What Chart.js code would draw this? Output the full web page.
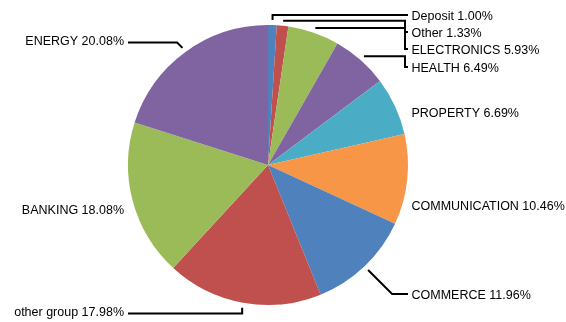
<!DOCTYPE html>
<html>
<head>
<meta charset="utf-8">
<script src="https://cdn.jsdelivr.net/npm/chart.js@4/dist/chart.umd.min.js"></script>
<style>
    html, body { margin: 0; padding: 0; background: #ffffff; }
    #wrap { width: 566px; height: 322px; position: relative; }
</style>
</head>
<body>
<div id="wrap"><canvas id="pieChart"></canvas></div>
<script>
(() => {
    "use strict";

    const categories = ["Deposit", "Other", "ELECTRONICS", "HEALTH", "PROPERTY", "COMMUNICATION", "COMMERCE", "other group", "BANKING", "ENERGY"];
    const shares = [1.00, 1.33, 5.93, 6.49, 6.69, 10.46, 11.96, 17.98, 18.08, 20.08];
    const sliceColors = ["#4f81bd", "#c0504d", "#9bbb59", "#8064a2", "#4bacc6", "#f79646", "#4f81bd", "#c0504d", "#9bbb59", "#8064a2"];

    // label placement, offsets from pie centre; route = how the leader line runs
    const labelLayout = [
        { side: "right", dy: -150, route: "vh" },
        { side: "right", dy: -133, route: "hv" },
        { side: "right", dy: -116, route: "hv" },
        { side: "right", dy: -98, route: "hv" },
        { side: "right", dy: -51.5, route: null },
        { side: "right", dy: 41.5, route: null },
        { side: "right", dy: 129, route: "dh" },
        { side: "left", dy: 148.5, route: "vh" },
        { side: "left", dy: 45.5, route: null },
        { side: "left", dy: -122.5, route: "dh" }
    ];

    const pieLabels = {
        id: "pieLabels",
        afterDraw(chart) {
            const ctx = chart.ctx;
            const arcs = chart.getDatasetMeta(0).data;
            ctx.save();
            ctx.font = "12.5px 'Liberation Sans', Arial, sans-serif";
            ctx.textBaseline = "middle";
            ctx.fillStyle = "#000000";
            ctx.strokeStyle = "#000000";
            ctx.lineWidth = 2;
            ctx.lineJoin = "miter";

            arcs.forEach((arc, i) => {
                const lay = labelLayout[i];
                const cx = arc.x;
                const cy = arc.y;
                const r = arc.outerRadius;
                const mid = (arc.startAngle + arc.endAngle) / 2;
                const ax = cx + Math.cos(mid) * (r + 5);
                const ay = cy + Math.sin(mid) * (r + 5);
                const ly = cy + lay.dy;
                const right = lay.side === "right";
                const tx = right ? cx + r + 3.5 : cx - r - 4;
                const endX = right ? cx + r : cx - r;
                const elbowX = cx + r - 3;

                if (lay.route) {
                    ctx.beginPath();
                    ctx.moveTo(ax, ay);
                    if (lay.route === "hv") {
                        ctx.lineTo(elbowX, ay);
                        ctx.lineTo(elbowX, ly);
                    } else if (lay.route === "vh") {
                        ctx.lineTo(ax, ly);
                    } else if (lay.route === "dh") {
                        const d = Math.abs(ly - ay);
                        ctx.lineTo(ax + (right ? d : -d), ly);
                    }
                    ctx.lineTo(endX, ly);
                    ctx.stroke();
                }

                ctx.textAlign = right ? "left" : "right";
                const shift = lay.route ? (right ? 1.5 : -1) : 0;
                ctx.fillText(`${categories[i]} ${shares[i].toFixed(2)}%`, tx, ly + shift);
            });
            ctx.restore();
        }
    };

    new Chart(document.getElementById("pieChart"), {
        type: "pie",
        data: {
            labels: categories,
            datasets: [
                {
                    data: shares,
                    backgroundColor: sliceColors,
                    borderWidth: 0
                }
            ]
        },
        options: {
            responsive: true,
            maintainAspectRatio: false,
            animation: false,
            layout: {
                padding: { left: 128, right: 158, top: 25, bottom: 17 }
            },
            plugins: {
                legend: { display: false },
                tooltip: { enabled: false }
            }
        },
        plugins: [pieLabels]
    });
})();
</script>
</body>
</html>
